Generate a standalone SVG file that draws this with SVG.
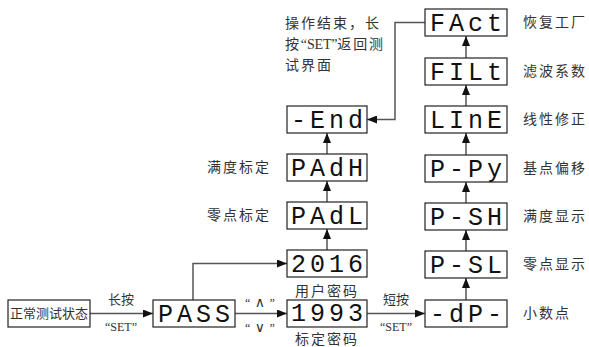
<svg xmlns="http://www.w3.org/2000/svg" width="589" height="347" viewBox="0 0 589 347">
<style>
.box{fill:#fff;stroke:#222;stroke-width:1.2}
.seg{font-family:"Liberation Mono",monospace;font-size:25px;fill:#111;text-anchor:middle}
.cn{font-family:"Noto Sans CJK SC",sans-serif;font-size:14px;fill:#333;letter-spacing:2px}
.lbl{font-family:"Noto Sans CJK SC",sans-serif;font-size:13px;fill:#333;text-anchor:middle}
.ser{font-family:"Liberation Serif",serif;font-size:12px;fill:#333;text-anchor:middle}
.ln{fill:none;stroke:#555;stroke-width:1.5}
</style>
<defs>
<marker id="ah" viewBox="0 0 10 8" refX="10" refY="4" markerWidth="10" markerHeight="8" markerUnits="userSpaceOnUse" orient="auto">
<path d="M0,0L10,4L0,8z" fill="#111"/>
</marker>
</defs>
<g id="connectors">
<path class="ln" d="M90,313.5H153" marker-end="url(#ah)"/>
<path class="ln" d="M235,313.5H287" marker-end="url(#ah)"/>
<path class="ln" d="M367,313.5H425" marker-end="url(#ah)"/>
<path class="ln" d="M193,300V263.5H287" marker-end="url(#ah)"/>
<path class="ln" d="M327,250V229" marker-end="url(#ah)"/>
<path class="ln" d="M327,202V181" marker-end="url(#ah)"/>
<path class="ln" d="M327,154V133" marker-end="url(#ah)"/>
<path class="ln" d="M466,300V278" marker-end="url(#ah)"/>
<path class="ln" d="M466,251V230" marker-end="url(#ah)"/>
<path class="ln" d="M466,203V182" marker-end="url(#ah)"/>
<path class="ln" d="M466,155V133" marker-end="url(#ah)"/>
<path class="ln" d="M466,106V85" marker-end="url(#ah)"/>
<path class="ln" d="M466,58V36" marker-end="url(#ah)"/>
<path class="ln" d="M425,22.5H395V119.5H367" marker-end="url(#ah)"/>
<text class="lbl" x="121" y="304">长按</text>
<text class="ser" x="121" y="331">“SET”</text>
<text class="ser" x="260" y="307">“<tspan font-family="DejaVu Sans" font-size="14"> ∧ </tspan>”</text>
<text class="ser" x="260" y="332">“<tspan font-family="DejaVu Sans" font-size="14"> ∨ </tspan>”</text>
<text class="lbl" x="396" y="304">短按</text>
<text class="ser" x="396" y="331">“SET”</text>
</g>
<g id="n-start"><rect class="box" x="8" y="300" width="82" height="27"/><text class="lbl" x="49" y="318">正常测试状态</text></g>
<g id="n-pass"><rect class="box" x="153" y="300" width="82" height="27"/><text class="seg" x="194" y="322" textLength="72" lengthAdjust="spacing">PASS</text></g>
<g id="n-1993"><rect class="box" x="287" y="300" width="80" height="27"/><text class="seg" x="327" y="320.5" textLength="72" lengthAdjust="spacing">1993</text><text class="cn" x="327" y="344" text-anchor="middle" font-size="10">标定密码</text></g>
<g id="n-2016"><rect class="box" x="287" y="250" width="80" height="27"/><text class="seg" x="327" y="272" textLength="72" lengthAdjust="spacing">2016</text><text class="cn" x="327" y="296" text-anchor="middle" font-size="11">用户密码</text></g>
<g id="n-padl"><rect class="box" x="287" y="202" width="80" height="27"/><text class="seg" x="327" y="224" textLength="72" lengthAdjust="spacing">PAdL</text><text class="cn" x="207" y="220">零点标定</text></g>
<g id="n-padh"><rect class="box" x="287" y="154" width="80" height="27"/><text class="seg" x="327" y="176" textLength="72" lengthAdjust="spacing">PAdH</text><text class="cn" x="207" y="172">满度标定</text></g>
<g id="n-end"><rect class="box" x="287" y="106" width="80" height="27"/><text class="seg" x="327" y="128" textLength="72" lengthAdjust="spacing">-End</text></g>
<g id="n-note">
<text class="cn" x="285" y="28" font-size="14" letter-spacing="2">操作结束，长</text>
<text class="cn" x="285" y="49" font-size="14" letter-spacing="1" textLength="100" lengthAdjust="spacing">按<tspan font-family="Liberation Serif" letter-spacing="0">“SET”</tspan>返回测</text>
<text class="cn" x="285" y="70" font-size="14" letter-spacing="2">试界面</text>
</g>
<g id="n-dp"><rect class="box" x="425" y="300" width="82" height="27"/><text class="seg" x="466" y="322" textLength="72" lengthAdjust="spacing">-dP-</text><text class="cn" x="523" y="318">小数点</text></g>
<g id="n-psl"><rect class="box" x="425" y="251" width="82" height="27"/><text class="seg" x="466" y="273" textLength="72" lengthAdjust="spacing">P-SL</text><text class="cn" x="523" y="269">零点显示</text></g>
<g id="n-psh"><rect class="box" x="425" y="203" width="82" height="27"/><text class="seg" x="466" y="225" textLength="72" lengthAdjust="spacing">P-SH</text><text class="cn" x="523" y="221">满度显示</text></g>
<g id="n-ppy"><rect class="box" x="425" y="155" width="82" height="27"/><text class="seg" x="466" y="177" textLength="72" lengthAdjust="spacing">P-Py</text><text class="cn" x="523" y="173">基点偏移</text></g>
<g id="n-line"><rect class="box" x="425" y="106" width="82" height="27"/><text class="seg" x="466" y="128" textLength="72" lengthAdjust="spacing">LInE</text><text class="cn" x="523" y="124">线性修正</text></g>
<g id="n-filt"><rect class="box" x="425" y="58" width="82" height="27"/><text class="seg" x="466" y="80" textLength="72" lengthAdjust="spacing">FILt</text><text class="cn" x="523" y="76">滤波系数</text></g>
<g id="n-fact"><rect class="box" x="425" y="9" width="82" height="27"/><text class="seg" x="466" y="31" textLength="72" lengthAdjust="spacing">FAct</text><text class="cn" x="523" y="27">恢复工厂</text></g>
</svg>
